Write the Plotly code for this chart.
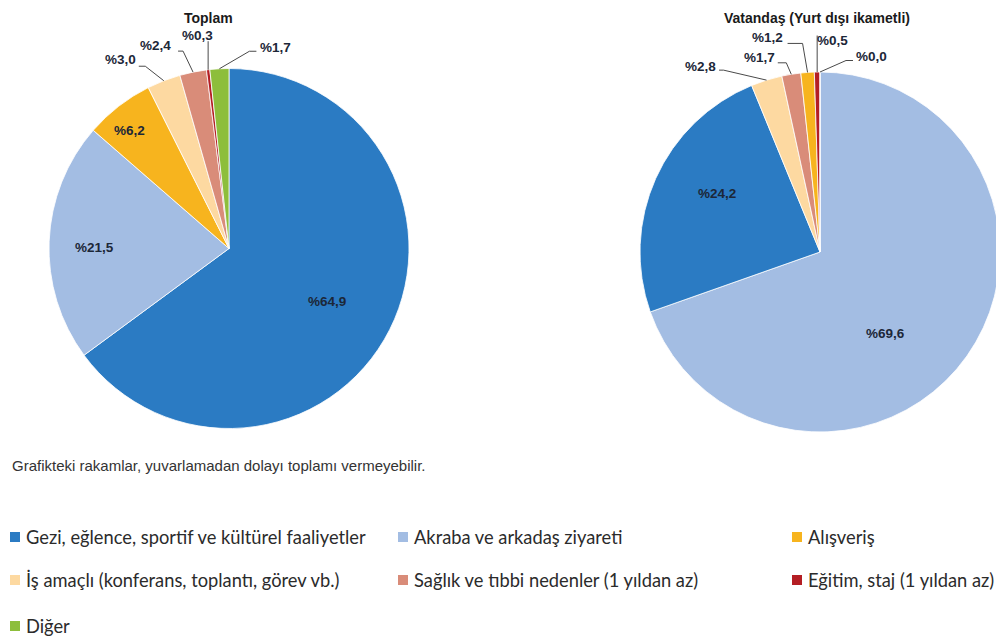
import math
import plotly.graph_objects as go

# page is shifted by the browser's default 8px body margin
OFF = 8
W, H = 996, 634

# ---------------- data ----------------
categories = [
    "Gezi, eğlence, sportif ve kültürel faaliyetler",
    "Akraba ve arkadaş ziyareti",
    "Alışveriş",
    "İş amaçlı (konferans, toplantı, görev vb.)",
    "Sağlık ve tıbbi nedenler (1 yıldan az)",
    "Eğitim, staj (1 yıldan az)",
    "Diğer",
]

toplam_labels = [
    "Gezi, eğlence, sportif ve kültürel faaliyetler",
    "Akraba ve arkadaş ziyareti",
    "Alışveriş",
    "İş amaçlı (konferans, toplantı, görev vb.)",
    "Sağlık ve tıbbi nedenler (1 yıldan az)",
    "Eğitim, staj (1 yıldan az)",
    "Diğer",
]
toplam_values = [64.9, 21.5, 6.2, 3.0, 2.4, 0.3, 1.7]

vatandas_labels = [
    "Akraba ve arkadaş ziyareti",
    "Gezi, eğlence, sportif ve kültürel faaliyetler",
    "İş amaçlı (konferans, toplantı, görev vb.)",
    "Sağlık ve tıbbi nedenler (1 yıldan az)",
    "Alışveriş",
    "Eğitim, staj (1 yıldan az)",
    "Diğer",
]
vatandas_values = [69.6, 24.2, 2.8, 1.7, 1.2, 0.5, 0.0]

titles = ["Toplam", "Vatandaş (Yurt dışı ikametli)"]
footnote = "Grafikteki rakamlar, yuvarlamadan dolayı toplamı vermeyebilir."

# ---------------- styles ----------------
colors = {
    categories[0]: "#2B7BC3",
    categories[1]: "#A3BDE3",
    categories[2]: "#F7B41E",
    categories[3]: "#FDD9A1",
    categories[4]: "#D98C79",
    categories[5]: "#B41E24",
    categories[6]: "#8DBE3B",
}

LABEL_FONT = dict(family="Liberation Sans, Arial", size=13.5, color="#1C2738", weight="bold")
TITLE_FONT = dict(family="Liberation Sans, Arial", size=14, color="#1A1A1A", weight="bold")
LINE_COLOR = "#4A4A4A"

# placement styles per pie (page pixel units): inside labels (radius fraction, angle nudge),
# outside labels (text offset from slice edge, leader-line points from edge)
pies = [
    dict(
        labels=toplam_labels, values=toplam_values, cx=229, cy=248.5, R=180,
        title=titles[0], title_pos=(208, 9),
        inside={
            categories[0]: (0.617, 1.5),
            categories[1]: (0.75, -1.9),
            categories[2]: (0.86, -2.3),
        },
        outside={
            categories[3]: ((-43, -21), [(-25, -14.5), (-18.5, -14.5)]),
            categories[4]: ((-37.5, -27), [(-15, -21), (-10, -21)]),
            categories[5]: ((-10.5, -34.5), [(0, -28.5)]),
            categories[6]: ((56.5, -21.5), [(37, -17.5), (30, -17.5)]),
        },
    ),
    dict(
        labels=vatandas_labels, values=vatandas_values, cx=820, cy=252, R=180,
        title=titles[1], title_pos=(817, 9),
        inside={
            categories[1]: (0.583, 15.9),
            categories[0]: (0.66, 5.5),
        },
        outside={
            categories[3]: ((-66.5, -14), [(-47.5, -10), (-43, -10)]),
            categories[4]: ((-31.5, -16.5), [(-13.5, -11.5), (-5, -11.5)]),
            categories[2]: ((-40.5, -34.5), [(-20, -29), (-5, -29)]),
            categories[5]: ((15, -31.5), [(0, -36.5)]),
            categories[6]: ((51.5, -15), [(33, -11.5), (26, -11.5)]),
        },
    ),
]


def px(x):
    return (x - OFF) / W


def py(y):
    return 1 - (y - OFF) / H


def fmt(v):
    return "%" + f"{v:.1f}".replace(".", ",")


fig = go.Figure()
annotations = []
shapes = []

for p in pies:
    cx, cy, R = p["cx"], p["cy"], p["R"]
    fig.add_trace(go.Pie(
        labels=p["labels"], values=p["values"], sort=False, direction="clockwise",
        rotation=0, textinfo="none", hoverinfo="label+percent", showlegend=False,
        marker=dict(colors=[colors[l] for l in p["labels"]], line=dict(color="white", width=0.8)),
        domain=dict(x=[px(cx - R), px(cx + R)], y=[py(cy + R), py(cy - R)]),
    ))
    total = sum(p["values"])
    cum = 0.0
    for lab, val in zip(p["labels"], p["values"]):
        mid = (cum + val / 2) / total * 360.0
        cum += val
        if lab in p["inside"]:
            f, nudge = p["inside"][lab]
            a = math.radians(mid + nudge)
            x = cx + f * R * math.sin(a)
            y = cy - f * R * math.cos(a)
            annotations.append(dict(x=px(x), y=py(y), xref="paper", yref="paper", text=fmt(val),
                                    showarrow=False, xanchor="center", yanchor="middle", font=LABEL_FONT))
        elif lab in p["outside"]:
            (tdx, tdy), pts = p["outside"][lab]
            a = math.radians(mid)
            ex = cx + R * math.sin(a)
            ey = cy - R * math.cos(a)
            annotations.append(dict(x=px(ex + tdx), y=py(ey + tdy), xref="paper", yref="paper",
                                    text=fmt(val), showarrow=False, xanchor="center", yanchor="middle",
                                    font=LABEL_FONT))
            path_pts = [(ex + dx, ey + dy) for dx, dy in pts] + [(ex, ey)]
            path = "M " + " L ".join(f"{px(x):.5f},{py(y):.5f}" for x, y in path_pts)
            shapes.append(dict(type="path", path=path, xref="paper", yref="paper",
                               line=dict(color=LINE_COLOR, width=1)))
    # title: top-anchored just inside the figure's top edge
    tx, ty = p["title_pos"]
    annotations.append(dict(x=px(tx), y=py(ty), xref="paper", yref="paper", text=p["title"],
                            showarrow=False, xanchor="center", yanchor="top", borderpad=0,
                            font=TITLE_FONT))

# footnote
annotations.append(dict(x=px(10), y=py(465), xref="paper", yref="paper", text=footnote,
                        showarrow=False, xanchor="left", yanchor="middle",
                        font=dict(family="Liberation Sans, Arial", size=15, color="#333333")))

# legend (3 columns, row-wise in category order)
col_x = [10, 398, 792]
row_y = [537, 580, 626]
for i, cat in enumerate(categories):
    x0 = col_x[i % 3]
    y0 = row_y[i // 3]
    shapes.append(dict(type="rect", xref="paper", yref="paper",
                       x0=px(x0), x1=px(x0 + 10), y0=py(y0 + 5), y1=py(y0 - 5),
                       fillcolor=colors[cat], line=dict(width=0)))
    annotations.append(dict(x=px(x0 + 14), y=py(y0), xref="paper", yref="paper", text=cat,
                            showarrow=False, xanchor="left", yanchor="middle",
                            font=dict(family="Lato, Noto Sans", size=18.3, color="#2B2B2B")))

fig.update_layout(
    width=W, height=H, margin=dict(l=0, r=0, t=0, b=0),
    paper_bgcolor="white", plot_bgcolor="white",
    annotations=annotations, shapes=shapes, showlegend=False,
)

fig.write_html("out.html")
